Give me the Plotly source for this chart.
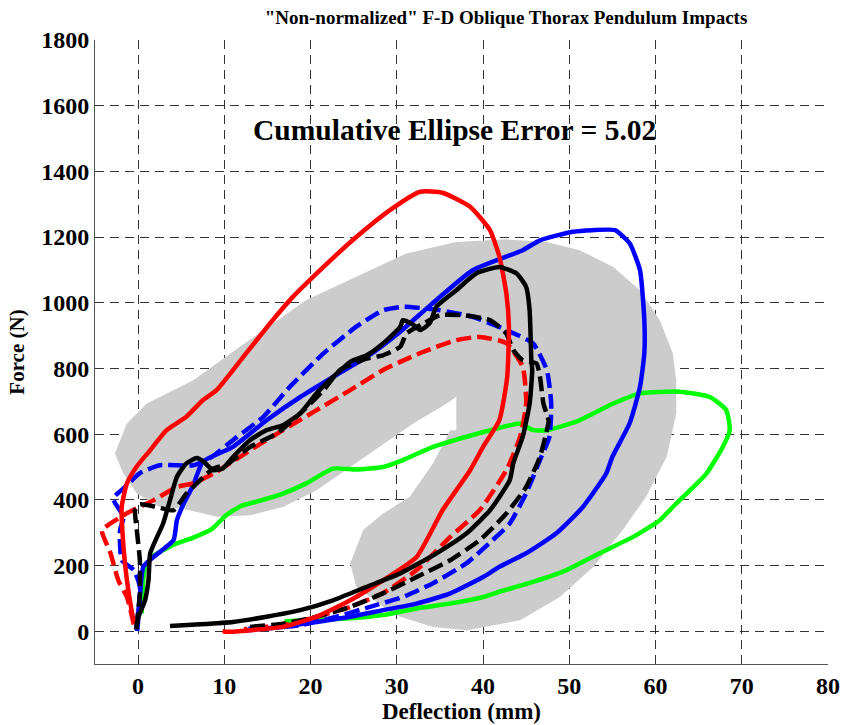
import plotly.graph_objects as go

# ---- corridor (gray horseshoe) ----
corr_x = [-2.7, -1.3, 1.0, 4.1, 6.4, 11.8, 19.5, 25.3, 31.1, 36.9, 42.7, 47.4, 51.2, 55.1, 58.2, 60.5,
          62.0, 62.4, 62.4, 61.3, 58.9, 56.2, 52.8, 48.9, 44.3, 38.1, 34.2, 30.4, 28.4, 25.3, 24.6,
          26.1, 28.4, 31.5, 34.2, 36.2, 36.9, 36.9, 35.8, 31.9, 28.0, 24.6, 20.7, 16.8, 13.0, 9.1,
          5.2, 2.5, -0.15, -1.7, -2.7]
corr_y = [541, 632, 693, 734, 764, 866, 1008, 1079, 1150, 1185, 1193, 1185, 1160, 1109, 1038, 947,
          846, 764, 663, 531, 409, 308, 196, 104, 33, 3, 13, 44, 74, 135, 206,
          308, 358, 409, 511, 612, 612, 714, 693, 632, 561, 500, 429, 378, 353, 348,
          373, 378, 419, 480, 541]

# ---- red solid ----
red_s_x = [-0.5, -0.7, -1.3, -1.7, -1.9, -1.3, -0.2, 1.4, 3.3, 5.6, 7.5, 9.1, 12.2, 15.3, 17.6, 21.5,
           25.3, 29.2, 32.7, 35.3, 38.5, 40.8, 41.9, 42.7, 43.0, 42.8, 41.9, 40.0, 38.5, 35.3, 32.3,
           28.4, 24.6, 20.7, 16.8, 13.0, 10.5, 9.8]
red_s_y = [30, 55, 155, 257, 378, 450, 500, 551, 612, 653, 703, 734, 835, 937, 1008, 1109,
           1200, 1282, 1338, 1335, 1292, 1221, 1140, 1028, 927, 774, 643, 561, 490, 368, 226,
           155, 94, 44, 13, 3, -2, 0]

# ---- red dashed ----
red_d_x = [-0.5, -0.8, -1.3, -2.3, -3.2, -4.2, -3.2, -1.3, 1.8, 4.5, 6.4, 9.1, 13.0, 16.8, 20.7,
           24.6, 28.4, 30.4, 33.0, 36.9, 39.6, 42.7, 44.6, 45.0, 44.3, 42.7, 39.6, 36.2, 32.3,
           28.4, 24.6, 20.7, 16.8, 13.0, 12.3]
red_d_y = [20, 55, 104, 155, 237, 307, 328, 359, 399, 439, 450, 485, 551, 612, 673,
           734, 795, 820, 850, 886, 896, 877, 805, 694, 592, 490, 368, 287, 186,
           116, 74, 44, 18, 9, 5]

# ---- blue solid ----
blue_s_x = [-0.2, 0.2, 0.6, 1.8, 4.1, 4.5, 5.3, 6.4, 7.5, 11.0, 14.9, 18.8, 22.6, 26.5, 30.4, 34.0,
            38.8, 44.6, 46.6, 50.4, 52.7, 55.3, 57.0, 58.2, 58.7, 58.7, 58.2, 57.0, 55.0, 54.3,
            51.6, 48.5, 45.0, 41.9, 40.0, 36.2, 32.3, 28.4, 24.6, 20.7, 16.8, 12.6]
blue_s_y = [3, 104, 196, 226, 277, 338, 389, 445, 516, 561, 642, 713, 774, 835, 912, 995,
            1099, 1160, 1190, 1216, 1221, 1221, 1181, 1099, 947, 846, 744, 633, 531, 481,
            379, 298, 237, 196, 165, 115, 84, 64, 44, 28, 13, 3]

# ---- blue dashed ----
blue_d_x = [-0.1, 0.2, -0.5, -1.9, -2.1, -1.7, -2.9, -1.5, 0.2, 2.5, 6.4, 8.5, 11.4, 14.5, 17.6,
            21.5, 25.3, 28.4, 30.8, 35.0, 38.8, 42.7, 45.8, 47.4, 47.9, 47.7, 46.6, 45.0, 43.1,
            41.1, 38.1, 34.2, 30.7, 26.9, 23.0, 18.8, 14.9, 12.8]
blue_d_y = [0, 135, 186, 216, 307, 348, 404, 439, 481, 505, 505, 530, 590, 652, 744,
            846, 927, 977, 988, 977, 957, 917, 876, 795, 694, 592, 521, 420, 328,
            277, 207, 146, 104, 74, 44, 18, 9, 8]

# ---- black solid ----
blk_s_x = [-0.2, 0.0, 0.8, 1.2, 1.4, 2.2, 2.9, 3.7, 4.5, 5.6, 6.8, 7.6, 8.7, 9.8, 11.0, 13.0, 14.9,
           16.8, 18.8, 20.7, 22.6, 24.6, 26.5, 28.4, 30.4, 30.7, 31.8, 32.7, 33.8, 34.6, 36.9, 39.2,
           41.9, 43.9, 45.0, 45.4, 45.6, 45.7, 45.4, 44.6, 43.5, 43.1, 40.8, 38.1, 34.6, 30.4,
           26.5, 22.6, 18.8, 14.9, 11.0, 7.2, 3.7]
blk_s_y = [5, 40, 94, 155, 237, 287, 328, 399, 470, 511, 527, 516, 490, 495, 530, 582, 612,
           627, 663, 724, 774, 820, 840, 876, 927, 947, 935, 917, 937, 988, 1038, 1089,
           1109, 1089, 1048, 977, 825, 795, 693, 592, 511, 460, 368, 298, 237, 176,
           135, 94, 64, 44, 28, 21, 16]

# ---- black dashed ----
blk_d_x = [-0.2, 0.2, 0.2, -0.15, -0.35, 0.2, 2.2, 4.1, 5.6, 7.2, 8.7, 10.3, 13.0, 16.1, 18.8,
           21.5, 23.4, 26.5, 28.4, 30.4, 31.1, 33.1, 35.0, 37.7, 40.8, 42.7, 43.5, 44.6, 46.2,
           46.6, 47.0, 47.6, 47.4, 46.6, 45.0, 42.7, 39.6, 36.2, 32.3, 28.4, 24.6, 20.7, 16.8,
           13.0, 12.5]
blk_d_y = [10, 115, 216, 307, 368, 386, 378, 368, 419, 460, 495, 508, 561, 602, 663,
           734, 795, 830, 840, 866, 906, 937, 962, 962, 947, 906, 856, 825, 815,
           775, 693, 640, 612, 531, 439, 358, 277, 216, 165, 115, 74, 44, 23,
           13, 12]

# ---- green solid ----
grn_x = [0.4, 0.6, 0.8, 1.6, 4.0, 6.4, 8.5, 10.3, 12.0, 14.1, 16.8, 19.5, 22.6, 25.3, 28.4, 30.7,
         34.2, 38.1, 41.6, 44.3, 45.8, 47.4, 51.2, 55.1, 58.2, 62.8, 66.3, 68.2, 68.6, 67.8, 65.9,
         63.6, 62.0, 60.5, 57.4, 53.5, 49.7, 45.8, 41.9, 40.0, 36.2, 32.3, 28.4, 24.6, 20.7, 17.0]
grn_y = [54, 155, 196, 226, 262, 285, 310, 355, 382, 397, 419, 450, 495, 492, 500, 521,
         561, 592, 617, 632, 612, 612, 642, 693, 724, 729, 713, 673, 612, 561, 480,
         419, 378, 338, 287, 237, 186, 150, 120, 104, 84, 69, 49, 39, 34, 30]

x_ticks = [0, 10, 20, 30, 40, 50, 60, 70, 80]
y_ticks = [0, 200, 400, 600, 800, 1000, 1200, 1400, 1600, 1800]

FONT = "Liberation Serif"
DASH = "15px,6px"
GRID_DASH = "9px,6px"

fig = go.Figure()
fig.add_trace(go.Scatter(x=corr_x, y=corr_y, mode="lines", fill="toself",
                         fillcolor="#cccccc", line=dict(width=0, color="#cccccc"),
                         hoverinfo="skip", showlegend=False))

series = [
    (grn_x, grn_y, "#00ff00", "solid"),
    (blue_s_x, blue_s_y, "#0000ff", "solid"),
    (blue_d_x, blue_d_y, "#0000ff", DASH),
    (red_d_x, red_d_y, "#ff0000", DASH),
    (blk_d_x, blk_d_y, "#000000", DASH),
    (red_s_x, red_s_y, "#ff0000", "solid"),
    (blk_s_x, blk_s_y, "#000000", "solid"),
]
for xs, ys, c, d in series:
    fig.add_trace(go.Scatter(x=xs, y=ys, mode="lines",
                             line=dict(color=c, width=4.5, dash=d, shape="spline", smoothing=0.5),
                             showlegend=False))

fig.add_annotation(x=36.7, y=1525, text="<b>Cumulative Ellipse Error = 5.02</b>",
                   showarrow=False, font=dict(family=FONT, size=29.5, color="black"))

fig.update_layout(
    width=849, height=725,
    margin=dict(l=95, r=21, t=40, b=61),
    paper_bgcolor="white", plot_bgcolor="white",
    title=dict(text="<b>\"Non-normalized\" F-D Oblique Thorax Pendulum Impacts</b>",
               x=506 / 849, xref="container", xanchor="center",
               y=1 - 17 / 725, yref="container", yanchor="middle",
               font=dict(family=FONT, size=19, color="black")),
    font=dict(family=FONT, color="black"),
)
fig.update_xaxes(range=[-5, 80], tickvals=x_ticks, ticktext=[f"<b>{v}</b>" for v in x_ticks],
                 tickfont=dict(family=FONT, size=24, color="black"), automargin=False,
                 showgrid=True, gridcolor="#333333", griddash=GRID_DASH, gridwidth=1,
                 zeroline=False, showline=True, linecolor="#555555", linewidth=1,
                 title=dict(text="<b>Deflection (mm)</b>", font=dict(family=FONT, size=23, color="black"),
                            standoff=2))
fig.update_yaxes(range=[-100, 1800], tickvals=y_ticks, ticktext=[f"<b>{v}</b>" for v in y_ticks],
                 tickfont=dict(family=FONT, size=24, color="black"), automargin=False,
                 showgrid=True, gridcolor="#333333", griddash=GRID_DASH, gridwidth=1,
                 zeroline=False, showline=True, linecolor="#555555", linewidth=1,
                 title=dict(text="<b>Force (N)</b>", font=dict(family=FONT, size=21, color="black"),
                            standoff=10))

fig.write_html("out.html")
